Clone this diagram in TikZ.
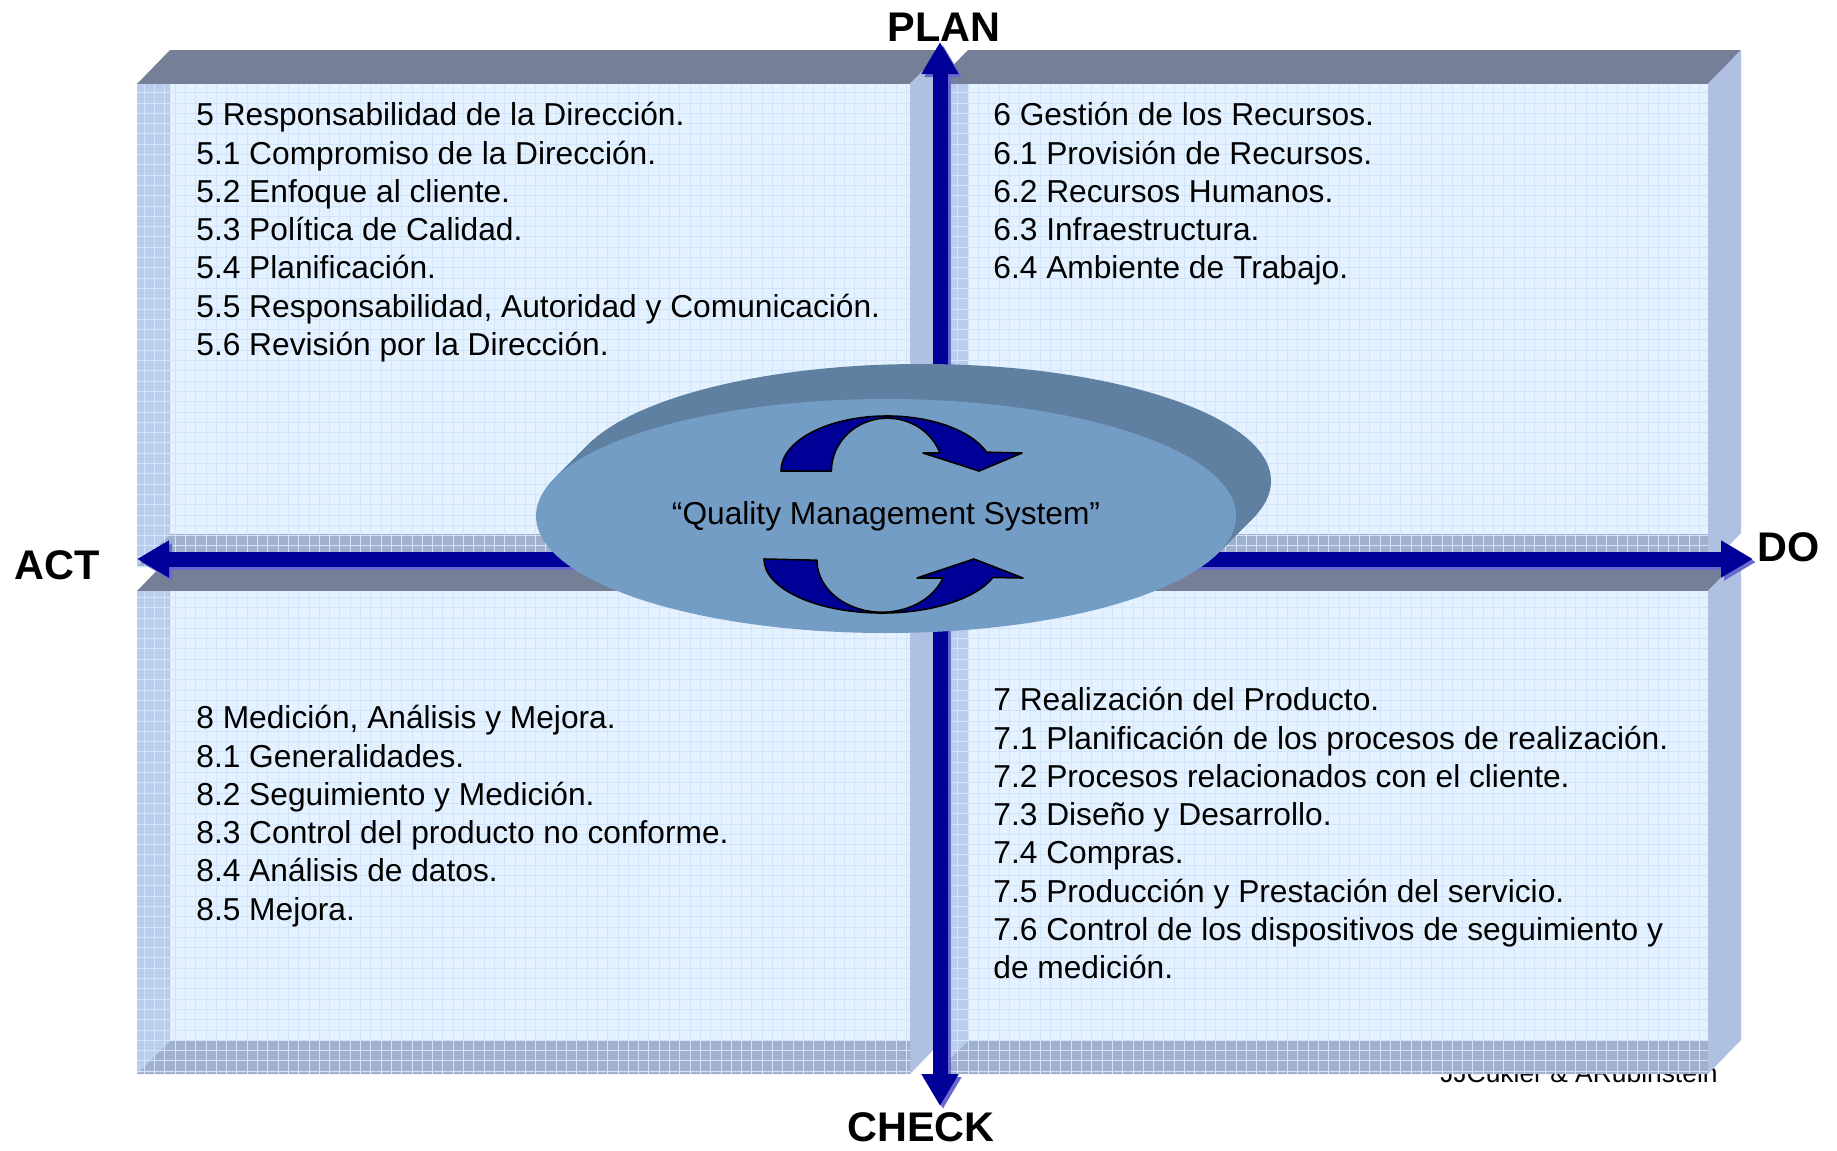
\documentclass[tikz,border=0pt]{standalone}
\usepackage{fontspec}
\setmainfont{Liberation Sans}
\usepackage{xcolor}
\usetikzlibrary{arrows.meta,shapes.geometric,positioning}

\definecolor{topgray}{RGB}{117,128,152}
\definecolor{sideblue}{RGB}{175,192,226}
\definecolor{frontblue}{RGB}{228,241,254}
\definecolor{bevelleft}{RGB}{186,205,237}
\definecolor{bevelbottom}{RGB}{160,176,205}
\definecolor{gridblue}{RGB}{210,228,251}
\definecolor{arrowblue}{RGB}{0,0,153}
\definecolor{shadowblue}{RGB}{104,104,206}
\definecolor{discdark}{RGB}{96,128,161}
\definecolor{discfront}{RGB}{116,157,198}
\definecolor{curlblue}{RGB}{0,0,150}

\begin{document}
\begin{tikzpicture}[x=0.5pt, y=-0.5pt, >={Triangle[length=16pt,width=17.5pt]}]

% Define styles
\tikzstyle{topface} = [fill=topgray]
\tikzstyle{sideface} = [fill=sideblue]
\tikzstyle{frontface} = [fill=frontblue]
\tikzstyle{leftbevel} = [fill=bevelleft]
\tikzstyle{bottombevel} = [fill=bevelbottom]
\tikzstyle{gridline} = [draw=gridblue, line width=0.5pt]
\tikzstyle{listtext} = [anchor=north west, align=left, inner sep=0pt, font=\fontsize{15.85pt}{19.15pt}\selectfont]
\tikzstyle{heading} = [inner sep=0pt, font=\bfseries\fontsize{20.7pt}{24pt}\selectfont]
\tikzstyle{credit} = [inner sep=0pt, font=\fontsize{13.2pt}{16pt}\selectfont]
\tikzstyle{mainarrow} = [->, draw=arrowblue, line width=7.5pt]
\tikzstyle{arrowshadow} = [->, draw=shadowblue, line width=7.5pt]
\tikzstyle{discside} = [fill=discdark]
\tikzstyle{disc} = [ellipse, fill=discfront, minimum width=350pt, minimum height=117pt, inner sep=0pt, font=\fontsize{15.85pt}{19.15pt}\selectfont]
\tikzstyle{curl} = [fill=curlblue, draw=black, line width=0.8pt, line join=round]

\useasboundingbox (0,0) rectangle (1837,1151);

% Credit (half hidden by the boxes)
\node [credit, anchor=base east] (credit) at (1718,1082) {JJCukier \& ARubinstein};

% Boxes
\foreach \xa/\ya/\xb/\yb in {137/84/910/567, 935/84/1708/567, 137/591/910/1074, 935/591/1708/1074} {
  \fill[topface] (\xa,\ya) -- ({\xa+33},{\ya-34}) -- ({\xb+33},{\ya-34}) -- (\xb,\ya) -- cycle;
  \fill[sideface] (\xb,\ya) -- ({\xb+33},{\ya-34}) -- ({\xb+33},{\yb-34}) -- (\xb,\yb) -- cycle;
  \fill[frontface] (\xa,\ya) rectangle (\xb,\yb);
  \fill[leftbevel] (\xa,\ya) -- ({\xa+33},\ya) -- ({\xa+33},{\yb-33}) -- (\xa,\yb) -- cycle;
  \fill[bottombevel] (\xa,\yb) -- ({\xa+33},{\yb-33}) -- (\xb,{\yb-33}) -- (\xb,\yb) -- cycle;
  \draw[gridline, xstep=5.15pt, ystep=5.15pt] (\xa,\yb) grid (\xb,\ya);
}

% Nodes
\node [heading] (plan) at (944,27) {PLAN};
\node [heading] (do) at (1789,547) {DO};
\node [heading] (check) at (921,1127) {CHECK};
\node [heading] (act) at (57,565) {ACT};

\coordinate (hub) at (940,559);
\coordinate (plantip) at (940,42);
\coordinate (dotip) at (1753,559);
\coordinate (checktip) at (940,1106);
\coordinate (acttip) at (137,559);

\node [listtext] (direccion) at (196,102) {5 Responsabilidad de la Dirección.\\
5.1 Compromiso de la Dirección.\\
5.2 Enfoque al cliente.\\
5.3 Política de Calidad.\\
5.4 Planificación.\\
5.5 Responsabilidad, Autoridad y Comunicación.\\
5.6 Revisión por la Dirección.};
\node [listtext] (recursos) at (993,102) {6 Gestión de los Recursos.\\
6.1 Provisión de Recursos.\\
6.2 Recursos Humanos.\\
6.3 Infraestructura.\\
6.4 Ambiente de Trabajo.};
\node [listtext] (medicion) at (196,705) {8 Medición, Análisis y Mejora.\\
8.1 Generalidades.\\
8.2 Seguimiento y Medición.\\
8.3 Control del producto no conforme.\\
8.4 Análisis de datos.\\
8.5 Mejora.};
\node [listtext] (producto) at (993,687) {7 Realización del Producto.\\
7.1 Planificación de los procesos de realización.\\
7.2 Procesos relacionados con el cliente.\\
7.3 Diseño y Desarrollo.\\
7.4 Compras.\\
7.5 Producción y Prestación del servicio.\\
7.6 Control de los dispositivos de seguimiento y\\
de medición.};

% Connections
\draw [arrowshadow] ([shift={(3,3)}]hub) -- ([shift={(3,3)}]plantip);
\draw [arrowshadow] ([shift={(3,3)}]hub) -- ([shift={(3,3)}]dotip);
\draw [arrowshadow] ([shift={(3,3)}]hub) -- ([shift={(3,3)}]checktip);
\draw [arrowshadow] ([shift={(3,3)}]hub) -- ([shift={(3,3)}]acttip);
\draw [mainarrow] (hub) -- (plantip);
\draw [mainarrow] (hub) -- (dotip);
\draw [mainarrow] (hub) -- (checktip);
\draw [mainarrow] (hub) -- (acttip);

% Disc
\foreach \k in {35,34,...,1} {
  \fill[discside] ({886+\k},{516-\k}) ellipse [x radius=350, y radius=117];
}
\node [disc] (qms) at (886,516) {“Quality Management System”};

% Curls
\draw [curl] (781,471) arc [start angle=180, end angle=340, x radius=106, y radius=55]
  -- (1022,453) -- (979,471) -- (923,453) -- (940,453)
  arc [start angle=340, end angle=180, x radius=56, y radius=53] -- cycle;
\draw [curl] (764,559) arc [start angle=180, end angle=20, x radius=118, y radius=54]
  -- (1023,578) -- (974,559) -- (917,578) -- (943,578)
  arc [start angle=20, end angle=180, x radius=65, y radius=52] -- cycle;

\end{tikzpicture}
\end{document}
